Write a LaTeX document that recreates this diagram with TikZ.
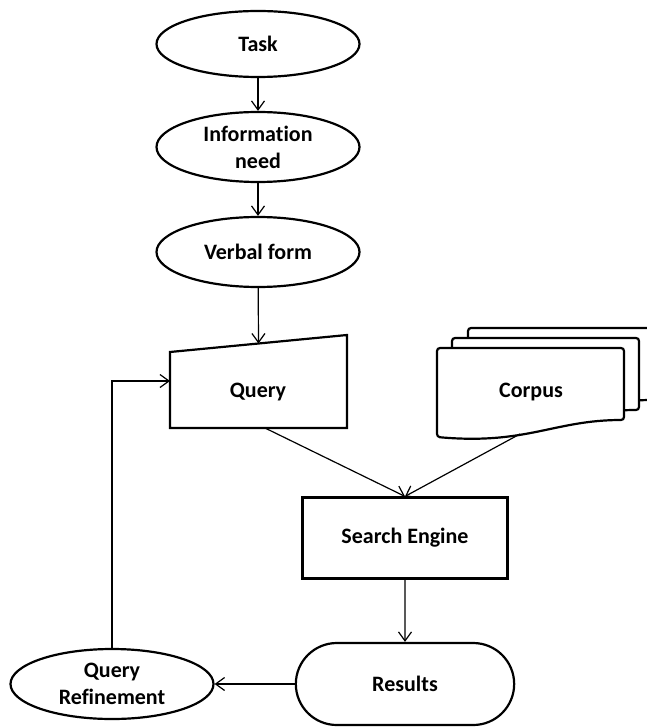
\documentclass[tikz,border=0pt]{standalone}
\usepackage{fontspec}
\setmainfont{Carlito}[Ligatures=NoCommon]
\usetikzlibrary{shapes.geometric,shapes.misc,arrows.meta,calc}
\tikzset{basic/.style={draw,line width=2.2pt,
                       font=\bfseries\fontsize{22}{27}\selectfont,align=center}}
\tikzset{oval/.style={basic,ellipse,minimum width=203pt,minimum height=70pt,inner sep=0pt}}
\tikzset{process/.style={basic,rectangle,minimum width=205pt,minimum height=81pt}}
\tikzset{terminal/.style={basic,rounded rectangle,minimum width=225pt,minimum height=82pt}}
\tikzset{textonly/.style={basic,draw=none}}
\tikzset{sheet/.style={draw,line width=2.2pt,fill=white,rounded corners=3pt}}
\tikzset{link/.style={->,line width=1.2pt}}

\begin{document}
\begin{tikzpicture}[x=1pt,y=-1pt,>={Straight Barb[length=9pt,width=13pt]}]
    \useasboundingbox (0,0) rectangle (646,727);

    % task chain
    \node[oval,minimum height=66pt] (task) at (258,44) {Task};
    \node[oval] (need) at (258,147) {Information\\need};
    \node[oval] (verbal) at (258,252) {Verbal form};

    % query (manual input)
    \coordinate (qbl) at (170,428);
    \coordinate (qbr) at (347,428);
    \coordinate (qtr) at (347,335);
    \coordinate (qtl) at (170,352);
    \draw[basic] (qbl) -- (qbr) -- (qtr) -- (qtl) -- cycle;
    \node[textonly] (query) at (258,392) {Query};
    \coordinate (qin) at ($(qtl)!0.5!(qtr)$);
    \coordinate (qside) at (170,381);
    \coordinate (qout) at (265,428);

    % corpus, sheets from back to front
    \foreach \dx/\dy in {31/-20,15/-10,0/0}{
        \draw[sheet,shift={(\dx,\dy)}] (437,348) -- (624,348) -- (624,420)
            .. controls (554,420) and (527,445) .. (437,437) -- cycle;
    }
    \node[textonly] (corpus) at (531,392) {Corpus};
    \coordinate (cout) at (520,434);

    % engine, results, refinement
    \node[process] (engine) at (405,538) {Search Engine};
    \node[terminal] (results) at (405,684) {Results};
    \node[oval] (refine) at (112,684) {Query\\Refinement};

    % connectors
    \draw[link] (task) -- (need);
    \draw[link] (need) -- (verbal);
    \draw[link] (verbal) -- (qin);
    \draw[link] (qout) -- (engine.north);
    \draw[link] (cout) -- (engine.north);
    \draw[link] (engine) -- (results);
    \draw[link] (results) -- (refine);
    \draw[link] (refine.north) |- (qside);
\end{tikzpicture}
\end{document}
